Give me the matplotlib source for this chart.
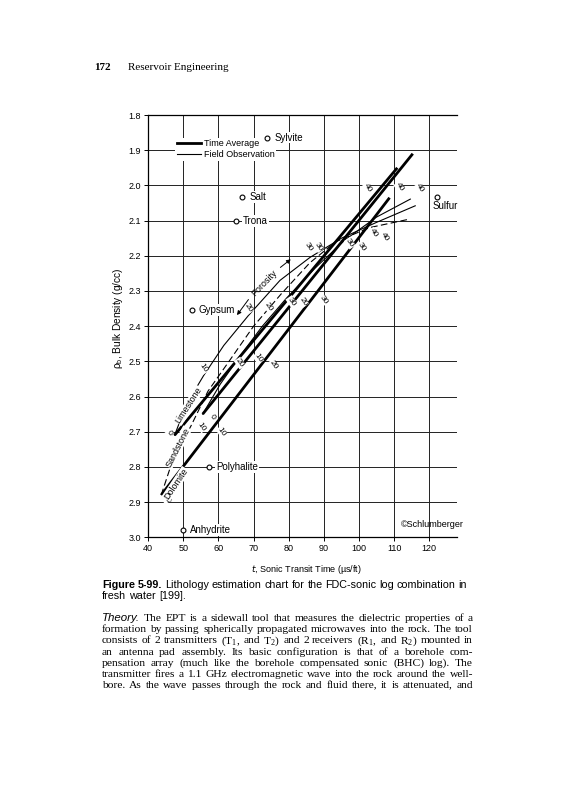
import matplotlib
matplotlib.use("Agg")
import matplotlib.pyplot as plt
from matplotlib.ticker import FormatStrFormatter
from matplotlib.lines import Line2D
import numpy as np

narrow = ['Liberation Sans Narrow', 'Liberation Sans', 'DejaVu Sans']
sans = ['Liberation Sans', 'DejaVu Sans']
serif = ['Liberation Serif', 'DejaVu Serif']
plt.rcParams['font.family'] = narrow

# ---- chart data ----
# time average lines (thick)
sand_ta_t = [55.5, 115.3]
sand_ta_rho = [2.65, 1.91]
lime_ta_t = [47.5, 110.9]
lime_ta_rho = [2.71, 1.95]
dolo_ta_t = [43.7, 108.7]
dolo_ta_rho = [2.88, 2.035]

# field observation curves (thin)
sand_fo_t = [55.5, 60.5, 66.1, 72.5, 79.4, 87.5, 96.0, 105.0, 114.6]
sand_fo_rho = [2.65, 2.565, 2.485, 2.40, 2.32, 2.235, 2.155, 2.09, 2.039]
lime_fo_t = [47.5, 51.0, 55.8, 61.5, 68.5, 77.5, 86.0, 95.0, 105.0, 116.0]
lime_fo_rho = [2.71, 2.62, 2.54, 2.455, 2.37, 2.27, 2.205, 2.15, 2.105, 2.058]
dolo_fo_t = [43.7, 47.0, 52.2, 57.0, 63.0, 70.0, 77.8, 86.0, 93.4, 103.0, 114.3]
dolo_fo_rho = [2.88, 2.78, 2.683, 2.585, 2.50, 2.40, 2.309, 2.22, 2.16, 2.12, 2.096]

# porosity numbers written along the lines
por_text = ['0', '0', '0', '10', '10', '10', '20', '10', '20', '20', '20', '30',
            '20', '30', '30', '30', '30', '30', '40', '40', '40', '40', '40']
por_t = [46.0, 45.3, 58.1, 55.7, 55.2, 60.9, 66.1, 71.3, 75.6, 68.5, 74.2, 80.8,
         84.1, 89.8, 85.6, 88.4, 97.4, 100.8, 104.1, 107.4, 102.4, 111.5, 117.3]
por_rho = [2.703, 2.894, 2.657, 2.520, 2.686, 2.700, 2.505, 2.491, 2.510, 2.349, 2.345, 2.330,
           2.330, 2.326, 2.174, 2.174, 2.164, 2.174, 2.136, 2.146, 2.008, 2.005, 2.008]

# minerals
mineral_names = ['Sylvite', 'Salt', 'Trona', 'Gypsum', 'Polyhalite', 'Anhydrite', 'Sulfur']
mineral_t = [73.9, 66.8, 65.0, 52.4, 57.4, 50.0, 122.1]
mineral_rho = [1.864, 2.032, 2.10, 2.354, 2.80, 2.979, 2.032]

W, H = 565, 800
fig = plt.figure(figsize=(W / 100, H / 100), dpi=100)
ax = fig.add_axes([148.2 / W, 1 - 537.3 / H, (457.4 - 148.2) / W, 422.3 / H])

ax.set_xlim(40, 128)
ax.set_ylim(3.0, 1.8)
ax.set_xticks(np.arange(40, 121, 10))
ax.set_yticks(np.arange(1.8, 3.01, 0.1))
ax.yaxis.set_major_formatter(FormatStrFormatter('%.1f'))
ax.grid(True, color='#222222', lw=0.7)
ax.set_axisbelow(True)
ax.spines['right'].set_visible(False)
for s in ['left', 'top', 'bottom']:
    ax.spines[s].set_linewidth(0.9)
ax.tick_params(length=3, width=0.7, labelsize=6.5, pad=2)

# thick time average lines
for t, r in [(sand_ta_t, sand_ta_rho), (lime_ta_t, lime_ta_rho), (dolo_ta_t, dolo_ta_rho)]:
    ax.plot(t, r, color='k', lw=2.0, solid_capstyle='butt', zorder=3)
# thin field observation curves
ax.plot(sand_fo_t, sand_fo_rho, color='k', lw=0.8, zorder=3)
ax.plot(lime_fo_t, lime_fo_rho, color='k', lw=0.8, zorder=3)
ax.plot(dolo_fo_t, dolo_fo_rho, color='k', lw=0.8, ls=(0, (6, 3)), zorder=3)

for txt, t, r in zip(por_text, por_t, por_rho):
    ax.text(t, r, txt, fontsize=6, rotation=-55, ha='center', va='center', zorder=4,
            bbox=dict(boxstyle='square,pad=0.05', fc='white', ec='none'))

# lithology names
for name, t, r, rot in [('Limestone', 51.6, 2.625, 57), ('Sandstone', 48.4, 2.744, 63),
                        ('Dolomite', 47.9, 2.848, 56)]:
    ax.text(t, r, name, fontsize=6.5, rotation=rot, ha='center', va='center', zorder=4,
            bbox=dict(boxstyle='square,pad=0.05', fc='white', ec='none'))

# porosity arrow
ax.text(73.0, 2.278, 'Porosity', fontsize=6.5, rotation=46, ha='center', va='center', zorder=4)
ax.annotate('', xy=(64.8, 2.375), xytext=(69.0, 2.318),
            arrowprops=dict(arrowstyle='-|>', lw=0.7, color='k', mutation_scale=6), zorder=4)
ax.annotate('', xy=(81.2, 2.205), xytext=(77.0, 2.238),
            arrowprops=dict(arrowstyle='-|>', lw=0.7, color='k', mutation_scale=6), zorder=4)

# minerals
ax.plot(mineral_t, mineral_rho, 'o', ms=3.5, mfc='white', mec='k', mew=0.8, zorder=5)
for name, t, r in zip(mineral_names, mineral_t, mineral_rho):
    if name == 'Sulfur':
        ax.text(t - 1.2, r + 0.027, name, fontsize=7, ha='left', va='center', zorder=4.5)
    else:
        ax.text(t + 2.0, r, name, fontsize=7, ha='left', va='center', zorder=4.5,
                bbox=dict(boxstyle='square,pad=0.1', fc='white', ec='none'))

ax.text(120.8, 2.963, '\u00a9Schlumberger', fontsize=6.5, ha='center', va='center')

# legend
h_ta = Line2D([], [], color='k', lw=2.0)
h_fo = Line2D([], [], color='k', lw=0.8)
leg = ax.legend([h_ta, h_fo], ['Time Average', 'Field Observation'], loc='upper left',
                bbox_to_anchor=(0.072, 0.957), fontsize=6.5, frameon=True, facecolor='white',
                edgecolor='none', framealpha=1, fancybox=False, borderpad=0.2,
                handlelength=2.7, handletextpad=0.3, labelspacing=0.2)
leg.set_zorder(4)

ax.set_xlabel('$\\it{t}$, Sonic Transit Time (\u00b5s/ft)', fontsize=6.5)
ax.xaxis.set_label_coords((306.7 - 148.2) / 309.2, (537.3 - 563.3) / 422.3)
ax.set_ylabel('\u03c1$_\\mathregular{b}$, Bulk Density (g/cc)', fontsize=7.3)
ax.yaxis.set_label_coords((125 - 148.2) / 309.2, (537.3 - 318) / 422.3)

# ---- page text ----
fig.text(94 / W, 1 - 70 / H, '172', family=serif, fontsize=8, fontweight='bold', va='baseline')
fig.text(128 / W, 1 - 70 / H, 'Reservoir Engineering', family=serif, fontsize=8, va='baseline')

renderer = fig.canvas.get_renderer()


def make_words(words, y, fs, extra, **kw):
    items = []
    for i, w in enumerate(words):
        opts = dict(kw)
        if extra and i in extra:
            opts.update(extra[i])
        items.append(fig.text(0, 1 - y / H, w, va='baseline', ha='left', fontsize=fs, **opts))
    return items


def natural_width(words, fs, extra, **kw):
    items = make_words(words, 0, fs, extra, **kw)
    sp = fig.text(0, 0, 'a a', fontsize=fs, **kw)
    sp2 = fig.text(0, 0, 'aa', fontsize=fs, **kw)
    space = sp.get_window_extent(renderer).width - sp2.get_window_extent(renderer).width
    total = sum(t.get_window_extent(renderer).width for t in items) + space * (len(items) - 1)
    for t in items + [sp, sp2]:
        t.remove()
    return total


def put_line(words, x0, x1, y, fs, extra=None, justify=True, **kw):
    items = make_words(words, y, fs, extra, **kw)
    widths = [t.get_window_extent(renderer).width for t in items]
    if justify:
        gap = (x1 - x0 - sum(widths)) / max(len(items) - 1, 1)
    else:
        gap = 0.28 * fs * 100 / 72
    x = x0
    for t, w in zip(items, widths):
        t.set_x(x / W)
        x += w + gap


cap1 = 'Figure 5-99. Lithology estimation chart for the FDC-sonic log combination in'.split()
cap_extra = {0: dict(fontweight='bold'), 1: dict(fontweight='bold')}
cap_fs = min(8.2, 8.2 * 362 / natural_width(cap1, 8.2, cap_extra, family=sans))
put_line(cap1, 102, 467, 587.5, cap_fs, extra=cap_extra, family=sans)
put_line('fresh water [199].'.split(), 102, 467, 599, cap_fs, justify=False, family=sans)

body = [
    'Theory. The EPT is a sidewall tool that measures the dielectric properties of a',
    'formation by passing spherically propagated microwaves into the rock. The tool',
    'consists of 2 transmitters (T$_\\mathregular{1}$, and T$_\\mathregular{2}$) and 2 receivers '
    '(R$_\\mathregular{1}$, and R$_\\mathregular{2}$) mounted in',
    'an antenna pad assembly. Its basic configuration is that of a borehole com-',
    'pensation array (much like the borehole compensated sonic (BHC) log). The',
    'transmitter fires a 1.1 GHz electromagnetic wave into the rock around the well-',
    'bore. As the wave passes through the rock and fluid there, it is attenuated, and',
]
body_y = [621.3, 632.3, 643.3, 654.7, 665.7, 676.7, 687.7]
body_extra = [{0: dict(family=sans, style='italic')}] + [None] * 6
widest = max(natural_width(l.split(), 9, e, family=serif) for l, e in zip(body, body_extra))
body_fs = min(9, 9 * 368 / widest)
for line, y, e in zip(body, body_y, body_extra):
    put_line(line.split(), 102, 473, y, body_fs, extra=e, family=serif)

fig.savefig('out.png', dpi=100, facecolor='white')
